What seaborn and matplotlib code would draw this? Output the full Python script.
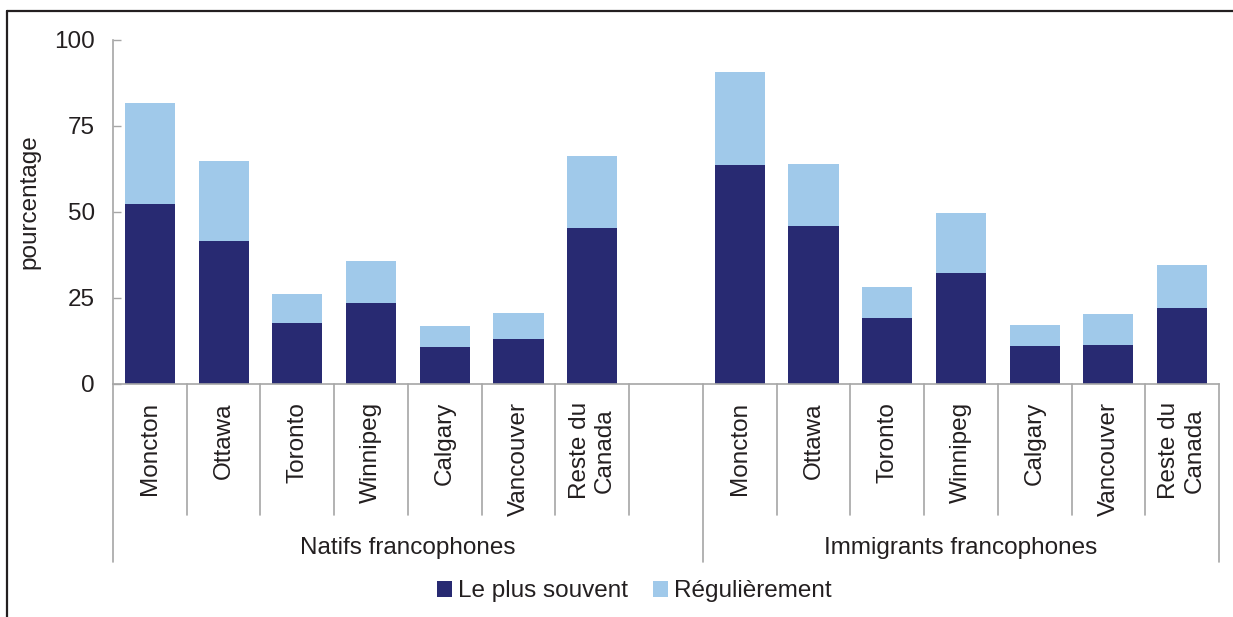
import numpy as np
import pandas as pd
import matplotlib
matplotlib.use("Agg")
import matplotlib.pyplot as plt
from matplotlib.lines import Line2D
from matplotlib.patches import Patch
import seaborn as sns

# --- data -------------------------------------------------------------
villes = ["Moncton", "Ottawa", "Toronto", "Winnipeg", "Calgary",
          "Vancouver", "Reste du\nCanada"]
groupes = ["Natifs francophones", "Immigrants francophones"]
natifs_plus_souvent = [52.2, 41.6, 17.7, 23.5, 10.7, 13.1, 45.3]
natifs_regulierement = [29.3, 23.1, 8.4, 12.2, 6.1, 7.5, 20.8]
immigrants_plus_souvent = [63.6, 45.8, 19.1, 32.2, 11.0, 11.3, 22.0]
immigrants_regulierement = [26.9, 18.0, 9.0, 17.4, 6.1, 9.0, 12.5]
series = ["Le plus souvent", "Régulièrement"]
yticks = [0, 25, 50, 75, 100]

DARK = "#282A72"
LIGHT = "#A0C9EA"
TEXT = "#231F20"
AXIS = "#A6A6A6"

# --- tidy table -------------------------------------------------------
rows = []
for g, ps, rg in [(groupes[0], natifs_plus_souvent, natifs_regulierement),
                  (groupes[1], immigrants_plus_souvent, immigrants_regulierement)]:
    for v, a, b in zip(villes, ps, rg):
        rows.append({"cle": f"{g}|{v}", "groupe": g, "ville": v,
                     "plus_souvent": a, "regulierement": b,
                     "cumul": a + b})
df = pd.DataFrame(rows)

# one empty slot separates the two groups
ordre = ([f"{groupes[0]}|{v}" for v in villes] + ["__vide__"] +
         [f"{groupes[1]}|{v}" for v in villes])

sns.set_theme(style="white")
plt.rcParams["font.family"] = ["Liberation Sans", "DejaVu Sans"]
plt.rcParams["text.color"] = TEXT
plt.rcParams["axes.labelcolor"] = TEXT
plt.rcParams["xtick.color"] = TEXT
plt.rcParams["ytick.color"] = TEXT

FS = 17.5
fig = plt.figure(figsize=(12.33, 6.17), dpi=100)
ax = fig.add_axes([113 / 1233, 1 - 384 / 617, 1106 / 1233, 344.5 / 617])

# stacked bars: cumulative total in light blue, dark segment over it
sns.barplot(data=df, x="cle", y="cumul", order=ordre, color=LIGHT,
            saturation=1, width=0.68, errorbar=None, linewidth=0, ax=ax)
sns.barplot(data=df, x="cle", y="plus_souvent", order=ordre, color=DARK,
            saturation=1, width=0.68, errorbar=None, linewidth=0, ax=ax)

ax.set_xlim(-0.5, len(ordre) - 0.5)
ax.set_ylim(0, 100)
ax.set_yticks(yticks)
ax.set_yticklabels([str(t) for t in yticks], fontsize=FS)
ax.tick_params(axis="y", direction="in", length=6, width=1, color=AXIS,
               pad=13, left=True)

pos = [i for i, k in enumerate(ordre) if k != "__vide__"]
labs = [k.split("|")[1] for k in ordre if k != "__vide__"]
ax.set_xticks(pos)
ax.set_xticklabels(labs, rotation=90, fontsize=FS, va="top", ha="center",
                   multialignment="center")
ax.tick_params(axis="x", length=0, pad=13)

ax.set_xlabel("")
ax.set_ylabel("pourcentage", fontsize=FS)
ax.yaxis.set_label_coords(-0.066, 0.528)

for s in ["top", "right"]:
    ax.spines[s].set_visible(False)
for s in ["left", "bottom"]:
    ax.spines[s].set_color(AXIS)
    ax.spines[s].set_linewidth(1.2)

# category separators below the axis
trans = ax.get_xaxis_transform()
court = -131 / 344.5
long_ = -178 / 344.5
n = len(ordre)
for b in np.arange(-0.5, n, 1.0):
    is_long = b in (-0.5, 7.5, n - 0.5)
    ax.add_line(Line2D([b, b], [0, long_ if is_long else court],
                       transform=trans, color=AXIS, lw=1.2, clip_on=False))

# group labels
ax.text(3.5, -164 / 344.5, groupes[0], transform=trans, ha="center",
        va="center", fontsize=FS)
ax.text(11.0, -164 / 344.5, groupes[1], transform=trans, ha="center",
        va="center", fontsize=FS)

# legend
handles = [Patch(facecolor=DARK, edgecolor="none"),
           Patch(facecolor=LIGHT, edgecolor="none")]
fig.legend(handles, series, loc="center", bbox_to_anchor=(634.5 / 1233, 1 - 591.5 / 617),
           ncol=2, frameon=False, fontsize=FS, handlelength=0.6,
           handleheight=0.6, handletextpad=0.25, columnspacing=1.05)

# outer frame (top and left)
fx = 6.5 / 1233
fy = 1 - 10.5 / 617
fig.add_artist(Line2D([fx, 1], [fy, fy], transform=fig.transFigure,
                      color=TEXT, lw=1.6))
fig.add_artist(Line2D([fx, fx], [0, fy], transform=fig.transFigure,
                      color=TEXT, lw=1.6))

fig.savefig("out.png", dpi=100, facecolor="white")
